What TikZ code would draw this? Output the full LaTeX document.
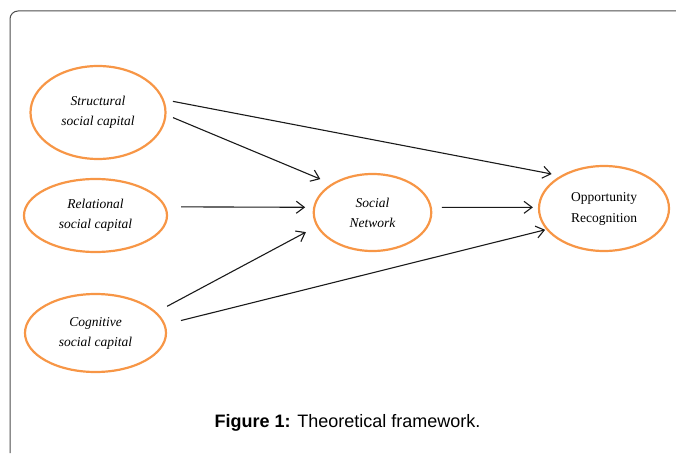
\documentclass[tikz,border=0pt]{standalone}
\usepackage{fontspec}
\setmainfont{Liberation Serif}
\setsansfont{Liberation Sans}
\usetikzlibrary{arrows.meta, shapes.geometric}
\definecolor{ovorange}{HTML}{F79646}
\definecolor{dkline}{HTML}{1A1A1A}
\definecolor{rimgray}{HTML}{4D4D4D}

\begin{document}
\begin{tikzpicture}[
  x=1pt, y=1pt,
  >={Straight Barb[length=8pt, width=12pt]},
  capell/.style 2 args={
    ellipse, draw=ovorange, line width=2.2pt,
    minimum width=#1, minimum height=#2, inner sep=0pt,
    align=center, text=black,
    font=\fontsize{13.5}{20}\selectfont\itshape
  },
  outell/.style 2 args={
    capell={#1}{#2}, font=\fontsize{13.5}{21}\selectfont
  },
  arr/.style={->, line width=1.1pt, dkline},
]

\useasboundingbox (0,0) rectangle (676,453);

% Frame
\draw[rimgray, line width=1pt, rounded corners=8pt] (10,0) -- (10,442) -- (676,442);

% =============================================
% Social capital (left)
% =============================================
\node[capell={135pt}{93pt}] (struct) at (98,340.5)
  {Structural\\social capital};

\node[capell={143pt}{73pt}] (rel) at (95.5,237.5)
  {Relational\\social capital};

\node[capell={141pt}{78pt}] (cog) at (95.5,120)
  {Cognitive\\social capital};

% =============================================
% Mediator and outcome
% =============================================
\node[capell={117.5pt}{77pt}] (sn) at (372.5,240.5)
  {Social\\Network};

\node[outell={130pt}{85pt}] (opp) at (604,244.5)
  {Opportunity\\Recognition};

% Arrows
\draw[arr, shorten <=9pt, shorten >=9pt] (struct.11) -- (opp.143);
\draw[arr, shorten <=7pt, shorten >=12pt] (struct.-2) -- (sn.145);
\draw[arr, shorten <=15pt, shorten >=8pt] (rel.7) -- (sn.175);
\draw[arr, shorten <=12pt, shorten >=12pt] (cog.19) -- (sn.194);
\draw[arr, shorten <=16pt, shorten >=1pt] (cog.7) -- (opp.200);
\draw[arr, shorten <=10pt, shorten >=5pt] (sn.5) -- (opp.179);

% Caption
\node[font=\sffamily\fontsize{18}{22}\selectfont] (caption) at (347.5,30)
  {\textbf{Figure 1:} Theoretical framework.};

\end{tikzpicture}
\end{document}
